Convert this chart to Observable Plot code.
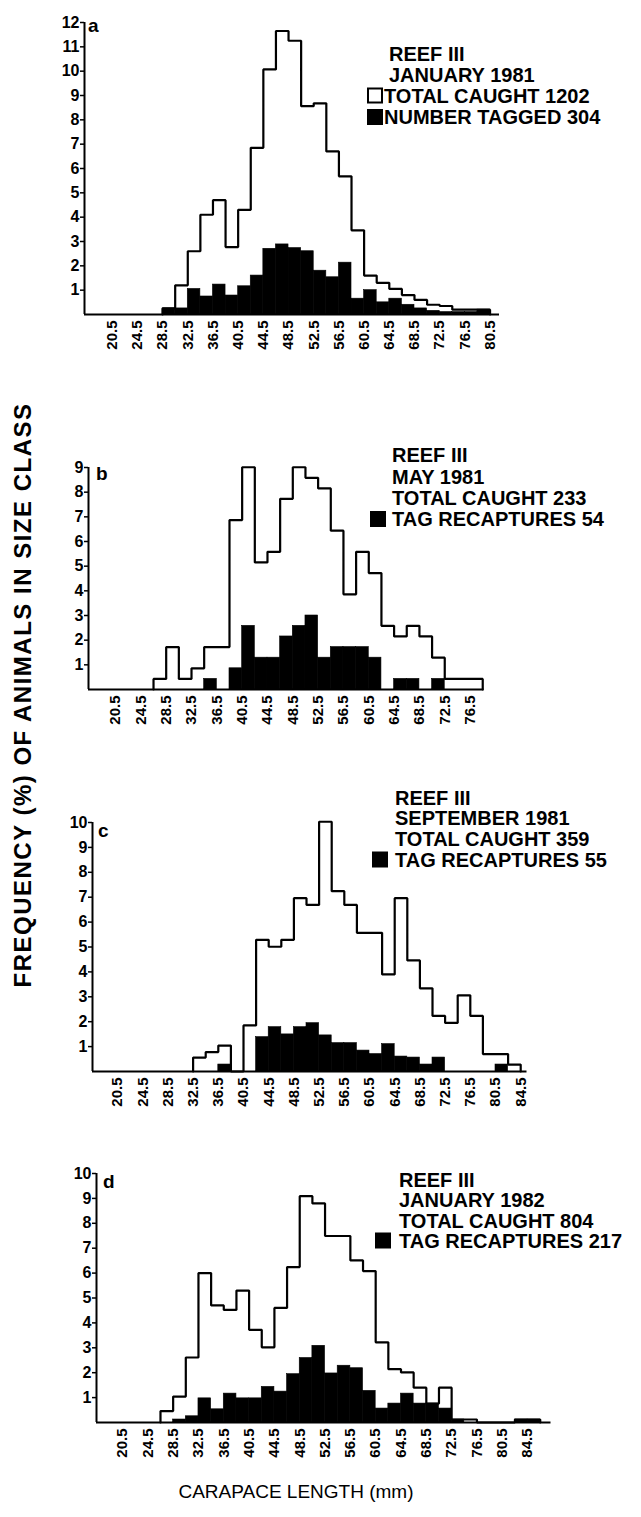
<!DOCTYPE html>
<html><head><meta charset="utf-8">
<script src="https://cdn.jsdelivr.net/npm/d3@7"></script>
<script src="https://cdn.jsdelivr.net/npm/@observablehq/plot@0.6"></script>
<style>
html,body{margin:0;padding:0;background:#fff;}
#wrap{position:relative;width:641px;height:1517px;overflow:hidden;background:#fff;}
#wrap svg{position:absolute;left:0;}
</style></head><body><div id="wrap"></div>
<script>
// lower edges of 2-mm size classes (carapace length, mm)
const sizeClasses = [26.5,28.5,30.5,32.5,34.5,36.5,38.5,40.5,42.5,44.5,46.5,48.5,50.5,52.5,54.5,56.5,58.5,60.5,62.5,64.5,66.5,68.5,70.5,72.5,74.5,76.5,78.5,80.5,82.5,84.5];

// (a) Reef III, January 1981
const totalJan1981  = [0,0.25,1.2,2.6,4.1,4.7,2.77,4.3,6.85,10.07,11.65,11.25,8.56,8.68,6.7,5.68,3.46,1.6,1.3,1.05,0.8,0.6,0.4,0.35,0.2,0.2,0.2,0,0,0];
const taggedJan1981 = [0,0.25,0.25,1.05,0.74,1.23,0.78,1.16,1.6,2.7,2.88,2.73,2.6,1.8,1.53,2.13,0.65,1.0,0.5,0.65,0.4,0.25,0.15,0.1,0.1,0.1,0.2,0,0,0];
// (b) Reef III, May 1981
const totalMay1981  = [0.43,1.72,0.43,0.86,1.72,1.72,6.87,9.01,5.15,5.58,7.73,9.01,8.58,8.15,6.44,3.86,5.58,4.72,2.58,2.15,2.58,2.15,1.29,0.43,0.43,0.43,0,0,0,0];
const recapMay1981  = [0,0,0,0,0.43,0,0.86,2.58,1.29,1.29,2.15,2.58,3.0,1.29,1.72,1.72,1.72,1.29,0,0.43,0.43,0,0.43,0,0,0,0,0,0,0];
// (c) Reef III, September 1981
const totalSep1981  = [0,0,0,0.56,0.78,1.04,0,1.85,5.29,5.01,5.29,6.96,6.69,10.03,7.24,6.69,5.57,5.57,3.9,6.96,4.46,3.34,2.23,1.95,3.06,2.23,0.7,0.7,0.28,0];
const recapSep1981  = [0,0,0,0,0,0.28,0,0,1.38,1.78,1.49,1.78,1.94,1.45,1.14,1.14,0.84,0.7,1.1,0.6,0.56,0.28,0.56,0,0,0,0,0.28,0,0];
// (d) Reef III, January 1982
const totalJan1982  = [0.46,1.04,2.61,6.0,4.7,4.52,5.3,3.72,3.02,4.6,6.24,9.09,8.8,7.49,7.49,6.51,6.08,3.22,2.14,2.01,1.4,0.76,1.4,0.12,0.12,0,0,0,0.12,0.12];
const recapJan1982  = [0,0.12,0.25,0.97,0.53,1.16,0.97,0.97,1.43,1.24,1.94,2.59,3.08,1.97,2.28,2.18,1.27,0.56,0.76,1.16,0.76,0.76,0.56,0.12,0,0,0,0,0.12,0.12];

// axis tick labels
const xTicksA = [20.5,24.5,28.5,32.5,36.5,40.5,44.5,48.5,52.5,56.5,60.5,64.5,68.5,72.5,76.5,80.5];
const xTicksB = [20.5,24.5,28.5,32.5,36.5,40.5,44.5,48.5,52.5,56.5,60.5,64.5,68.5,72.5,76.5];
const xTicksCD = [20.5,24.5,28.5,32.5,36.5,40.5,44.5,48.5,52.5,56.5,60.5,64.5,68.5,72.5,76.5,80.5,84.5];
const yTicksA = [1,2,3,4,5,6,7,8,9,10,11,12];
const yTicksB = [1,2,3,4,5,6,7,8,9];
const yTicksCD = [1,2,3,4,5,6,7,8,9,10];

// legend texts
const legendA = ["REEF III","JANUARY 1981","TOTAL CAUGHT 1202","NUMBER TAGGED 304"];
const legendB = ["REEF III","MAY 1981","TOTAL CAUGHT 233","TAG RECAPTURES 54"];
const legendC = ["REEF III","SEPTEMBER 1981","TOTAL CAUGHT 359","TAG RECAPTURES 55"];
const legendD = ["REEF III","JANUARY 1982","TOTAL CAUGHT 804","TAG RECAPTURES 217"];
const panelLetters = ["a","b","c","d"];
const yTitle = "FREQUENCY (%) OF ANIMALS IN SIZE CLASS";
const xTitle = "CARAPACE LENGTH (mm)";

const FONT = "'Liberation Sans', Arial, Helvetica, sans-serif";

// layout (positions/styles kept apart from the data)
const panels = [
  {total: totalJan1981, tagged: taggedJan1981, xt: xTicksA, yt: yTicksA, ymax: 12, top: 0,    height: 360, mt: 22, ml: 84, xdom: [16.1, 82],    w: 415,
   legend: legendA, lx: 389, sqx: 367, base: [61, 82, 102.5, 124], openSquare: true, letter: [88, 32]},
  {total: totalMay1981, tagged: recapMay1981, xt: xTicksB, yt: yTicksB, ymax: 9,  top: 430,  height: 305, mt: 37, ml: 88, xdom: [16.23, 78.7], w: 395.5,
   legend: legendB, lx: 392, sqx: 370, base: [461.5, 484, 504.5, 526], openSquare: false, letter: [96, 480]},
  {total: totalSep1981, tagged: recapSep1981, xt: xTicksCD, yt: yTicksCD, ymax: 10, top: 790, height: 327, mt: 32, ml: 92, xdom: [16.53, 85.5], w: 434.5,
   legend: legendC, lx: 395, sqx: 372, base: [804.5, 824.5, 846, 866.5], openSquare: false, letter: [98, 837]},
  {total: totalJan1982, tagged: recapJan1982, xt: xTicksCD, yt: yTicksCD, ymax: 10, top: 1150, height: 318, mt: 23, ml: 96, xdom: [16.39, 88.2], w: 454.5,
   legend: legendD, lx: 399, sqx: 375, base: [1186.5, 1206.5, 1227.5, 1247.5], openSquare: false, letter: [103, 1188]}
];

function outline(values) {
  const idx = values.map((v, i) => v > 0 ? i : -1).filter(i => i >= 0);
  const f = idx[0], l = idx[idx.length - 1];
  const pts = [{x: sizeClasses[f], y: 0}];
  for (let i = f; i <= l; i++) pts.push({x: sizeClasses[i], y: values[i]});
  pts.push({x: sizeClasses[l] + 2, y: 0});
  return pts;
}

const wrap = document.getElementById("wrap");

panels.forEach(p => {
  const rows = sizeClasses.map((x, i) => ({x, total: p.total[i], tagged: p.tagged[i]}));
  const mb = 46;
  const chart = Plot.plot({
    width: 641, height: p.height,
    marginTop: p.mt, marginBottom: mb, marginLeft: p.ml, marginRight: 641 - p.ml - p.w,
    x: {domain: p.xdom, axis: null},
    y: {domain: [0, p.ymax], axis: null},
    style: {fontFamily: FONT, fontSize: "16px", fontWeight: "bold", color: "black", background: "transparent", overflow: "visible"},
    marks: [
      Plot.line(outline(p.total), {x: "x", y: "y", curve: "step-after", stroke: "black", strokeWidth: 2.2, strokeLinejoin: "miter"}),
      Plot.rect(rows.filter(d => d.tagged > 0), {x1: "x", x2: d => d.x + 2, y1: 0, y2: "tagged", fill: "black", stroke: "black", strokeWidth: 0.6}),
      Plot.ruleY([0], {x1: p.xdom[0], x2: p.xdom[1], stroke: "black", strokeWidth: 2}),
      Plot.ruleX([p.xdom[0]], {y1: 0, y2: p.ymax, stroke: "black", strokeWidth: 2}),
      Plot.axisY(p.yt, {anchor: "left", tickSize: 4, tickPadding: 1, strokeWidth: 1.5, fontSize: 16, fontWeight: "bold", label: null}),
      Plot.axisX(p.xt, {anchor: "bottom", tickSize: 0, tickPadding: 6, tickRotate: -90, tickFormat: d => d.toFixed(1), fontSize: 15, fontWeight: "bold", label: null})
    ]
  });
  chart.style.top = p.top + "px";
  wrap.appendChild(chart);
});

// overlay for legends, panel letters and axis titles
const ov = d3.select(wrap).append("svg")
  .attr("width", 641).attr("height", 1517)
  .style("top", "0px").style("pointer-events", "none")
  .attr("font-family", FONT);

panels.forEach((p, k) => {
  ov.append("text").attr("x", p.letter[0]).attr("y", p.letter[1])
    .attr("font-size", 19).attr("font-weight", "bold").text(panelLetters[k]);
  p.legend.forEach((t, i) => {
    const hasSq = (i === 3) || (i === 2 && p.openSquare);
    ov.append("text").attr("x", p.openSquare && hasSq ? p.sqx + 17 : p.lx).attr("y", p.base[i])
      .attr("font-size", 20).attr("font-weight", "bold").text(t);
    if (hasSq) {
      const open = p.openSquare && i === 2;
      ov.append("rect").attr("x", p.sqx + (open ? 1 : 0)).attr("y", p.base[i] - 15 + (open ? 1 : 0))
        .attr("width", open ? 14 : 16).attr("height", open ? 14 : 16)
        .attr("fill", open ? "white" : "black").attr("stroke", "black").attr("stroke-width", open ? 2 : 0);
    }
  });
});

ov.append("text").attr("transform", "translate(31,695) rotate(-90)")
  .attr("text-anchor", "middle").attr("font-size", 24).attr("font-weight", "bold")
  .attr("letter-spacing", 1.5).text(yTitle);
ov.append("text").attr("x", 296).attr("y", 1498)
  .attr("text-anchor", "middle").attr("font-size", 19).text(xTitle);
</script></body></html>
